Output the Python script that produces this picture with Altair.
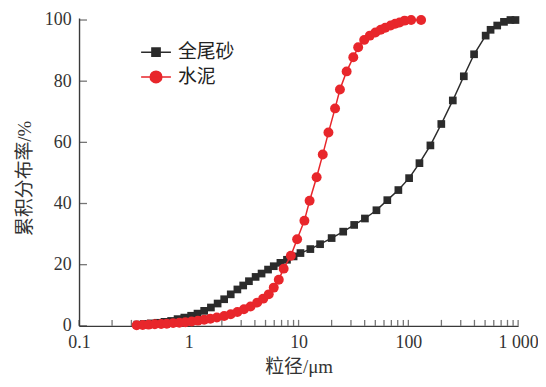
import altair as alt
import pandas as pd

series_names = ["全尾砂", "水泥"]
series_colors = ["#2b2b2b", "#e8262b"]

# 全尾砂 (tailings) particle size (µm) and cumulative %
black_x = [0.34, 0.39, 0.45, 0.52, 0.60, 0.69, 0.79, 0.91, 1.05, 1.20,
           1.38, 1.59, 1.83, 2.10, 2.41, 2.77, 3.13, 3.53, 4.06, 4.60,
           5.27, 5.94, 6.83, 7.84, 9.01, 10.4, 12.8, 15.7, 20.0, 25.5,
           32.1, 40.2, 51.2, 64.3, 81.1, 101.6, 126.2, 158.8, 199.6, 254,
           320, 397, 506, 561, 645, 743, 851, 946]
black_y = [0.4, 0.6, 0.8, 1.0, 1.3, 1.6, 2.2, 2.7, 3.3, 4.0,
           4.9, 6.0, 7.3, 8.7, 10.3, 11.9, 13.2, 14.6, 16.0, 17.1,
           18.4, 19.5, 20.6, 21.6, 22.7, 23.8, 25.1, 26.7, 28.7, 30.8,
           33.0, 35.1, 37.8, 41.1, 44.4, 48.3, 53.2, 59.0, 66.0, 73.7,
           81.6, 88.8, 94.9, 96.8, 98.2, 99.4, 100, 100]

# 水泥 (cement)
red_x = [0.335, 0.38, 0.43, 0.49, 0.56, 0.63, 0.72, 0.82, 0.93, 1.06,
         1.21, 1.38, 1.57, 1.80, 2.10, 2.41, 2.77, 3.18, 3.65, 4.20,
         4.76, 5.35, 5.94, 6.6, 7.31, 8.5, 9.7, 11.3, 12.6, 14.6,
         16.6, 18.7, 21.5, 23.8, 27.4, 31.5, 34.9, 39.6, 44.6, 50.1,
         56.0, 61.6, 69.0, 75.9, 83.2, 92.4, 106, 130.6]
red_y = [0.2, 0.3, 0.4, 0.5, 0.6, 0.7, 0.9, 1.0, 1.2, 1.4,
         1.7, 2.0, 2.3, 2.7, 3.2, 3.8, 4.5, 5.4, 6.3, 7.6,
         8.9, 10.3, 12.5, 15.1, 18.7, 22.9, 28.3, 34.4, 40.9, 48.6,
         56.0, 63.2, 71.1, 77.3, 83.2, 87.8, 91.1, 93.5, 94.9, 95.9,
         96.8, 97.5, 98.2, 98.8, 99.2, 99.8, 100, 100]

x_major = [0.1, 1, 10, 100, 1000]
x_minor = [0.2, 0.3, 0.4, 0.5, 0.6, 0.7, 0.8, 0.9,
           2, 3, 4, 5, 6, 7, 8, 9,
           20, 30, 40, 50, 60, 70, 80, 90,
           200, 300, 400, 500, 600, 700, 800, 900]
y_ticks = [0, 20, 40, 60, 80, 100]

df = pd.DataFrame({
    "series": [series_names[0]] * len(black_x) + [series_names[1]] * len(red_x),
    "d": black_x + red_x,
    "p": black_y + red_y,
})

NUM_FONT = "Liberation Serif, Times New Roman, serif"
CJK_FONT = "Liberation Serif, Noto Sans CJK SC, sans-serif"
AX = "#3a3a3a"
TXT = "#333333"

xscale = alt.Scale(type="log", domain=[0.1, 1000], nice=False)
yscale = alt.Scale(domain=[0, 100.7], nice=False, zero=False)

xaxis = alt.Axis(
    title="粒径/μm", values=x_major,
    labelExpr="datum.value >= 1000 ? '1 000' : format(datum.value, '~g')",
    ticks=False, grid=False, domainColor=AX, domainWidth=1.4,
    labelFont=NUM_FONT, labelFontSize=18, labelColor=TXT, labelPadding=8,
    labelFlush=False, labelOverlap=False,
    titleFont=CJK_FONT, titleFontSize=19, titleFontWeight="normal",
    titleColor=TXT, titlePadding=6,
)
yaxis = alt.Axis(
    title="累积分布率/%", values=y_ticks,
    ticks=False, grid=False, domainColor=AX, domainWidth=1.4,
    labelFont=NUM_FONT, labelFontSize=18, labelColor=TXT, labelPadding=8,
    labelFlush=False, labelOverlap=False,
    titleFont=CJK_FONT, titleFontSize=19, titleFontWeight="normal",
    titleColor=TXT, titlePadding=10, titleY=161,
)


def X(field):
    return alt.X(field, type="quantitative", scale=xscale, axis=xaxis)


def Y(field):
    return alt.Y(field, type="quantitative", scale=yscale, axis=yaxis)


base = alt.Chart(df)

xt = alt.Chart(pd.DataFrame({"t": x_major + x_minor})).mark_tick(
    orient="vertical", size=6, thickness=1.3, color=AX
).encode(
    x=X("t"),
    y=alt.YDatum(0, type="quantitative", scale=yscale, axis=yaxis),
    yOffset=alt.value(-3),
)
yt = alt.Chart(pd.DataFrame({"v": y_ticks})).mark_tick(
    orient="horizontal", size=8, thickness=1.3, color=AX
).encode(
    y=Y("v"),
    x=alt.XDatum(0.1, type="quantitative", scale=xscale, axis=xaxis),
    xOffset=alt.value(4),
)

line_b = base.transform_filter(alt.datum.series == series_names[0]).mark_line(
    color=series_colors[0], strokeWidth=1.5).encode(x=X("d"), y=Y("p"))
pts_b = base.transform_filter(alt.datum.series == series_names[0]).mark_point(
    shape="square", filled=True, size=60, color=series_colors[0], opacity=1
).encode(x=X("d"), y=Y("p"))
line_r = base.transform_filter(alt.datum.series == series_names[1]).mark_line(
    color=series_colors[1], strokeWidth=1.5).encode(x=X("d"), y=Y("p"))
pts_r = base.transform_filter(alt.datum.series == series_names[1]).mark_point(
    shape="circle", filled=True, size=100, color=series_colors[1], opacity=1
).encode(x=X("d"), y=Y("p"))

# legend glyphs: a line segment with the marker in the middle
sq_path = "M-2,0H2M-0.55,-0.55H0.55V0.55H-0.55Z"
ci_path = "M-2,0H2M-0.78,0A0.78,0.78,0,1,0,0.78,0A0.78,0.78,0,1,0,-0.78,0Z"
cscale = alt.Scale(domain=series_names, range=series_colors)
leg = alt.Legend(
    title=None, orient="none", legendX=68, legendY=25, padding=0,
    labelFont="Noto Sans CJK SC", labelFontSize=19, labelColor="#222222",
    symbolSize=225, symbolStrokeWidth=1.5, symbolOpacity=1,
    labelOffset=12.5, rowPadding=5,
)
legend_layer = base.mark_point(opacity=0, strokeWidth=1.5).encode(
    x=X("d"), y=Y("p"),
    fill=alt.Fill("series:N", scale=cscale, legend=leg),
    stroke=alt.Stroke("series:N", scale=cscale, legend=leg),
    shape=alt.Shape("series:N", scale=alt.Scale(domain=series_names, range=[sq_path, ci_path]), legend=leg),
)

chart = alt.layer(xt, yt, line_b, pts_b, line_r, pts_r, legend_layer).properties(
    width=442, height=310,
    padding={"left": 71.5, "top": 8.7, "right": 20, "bottom": 60},
    autosize=alt.AutoSizeParams(type="none"),
    background="white",
).configure_view(stroke=None)

chart.save("out.html", embed_options={"renderer": "svg", "actions": False})
